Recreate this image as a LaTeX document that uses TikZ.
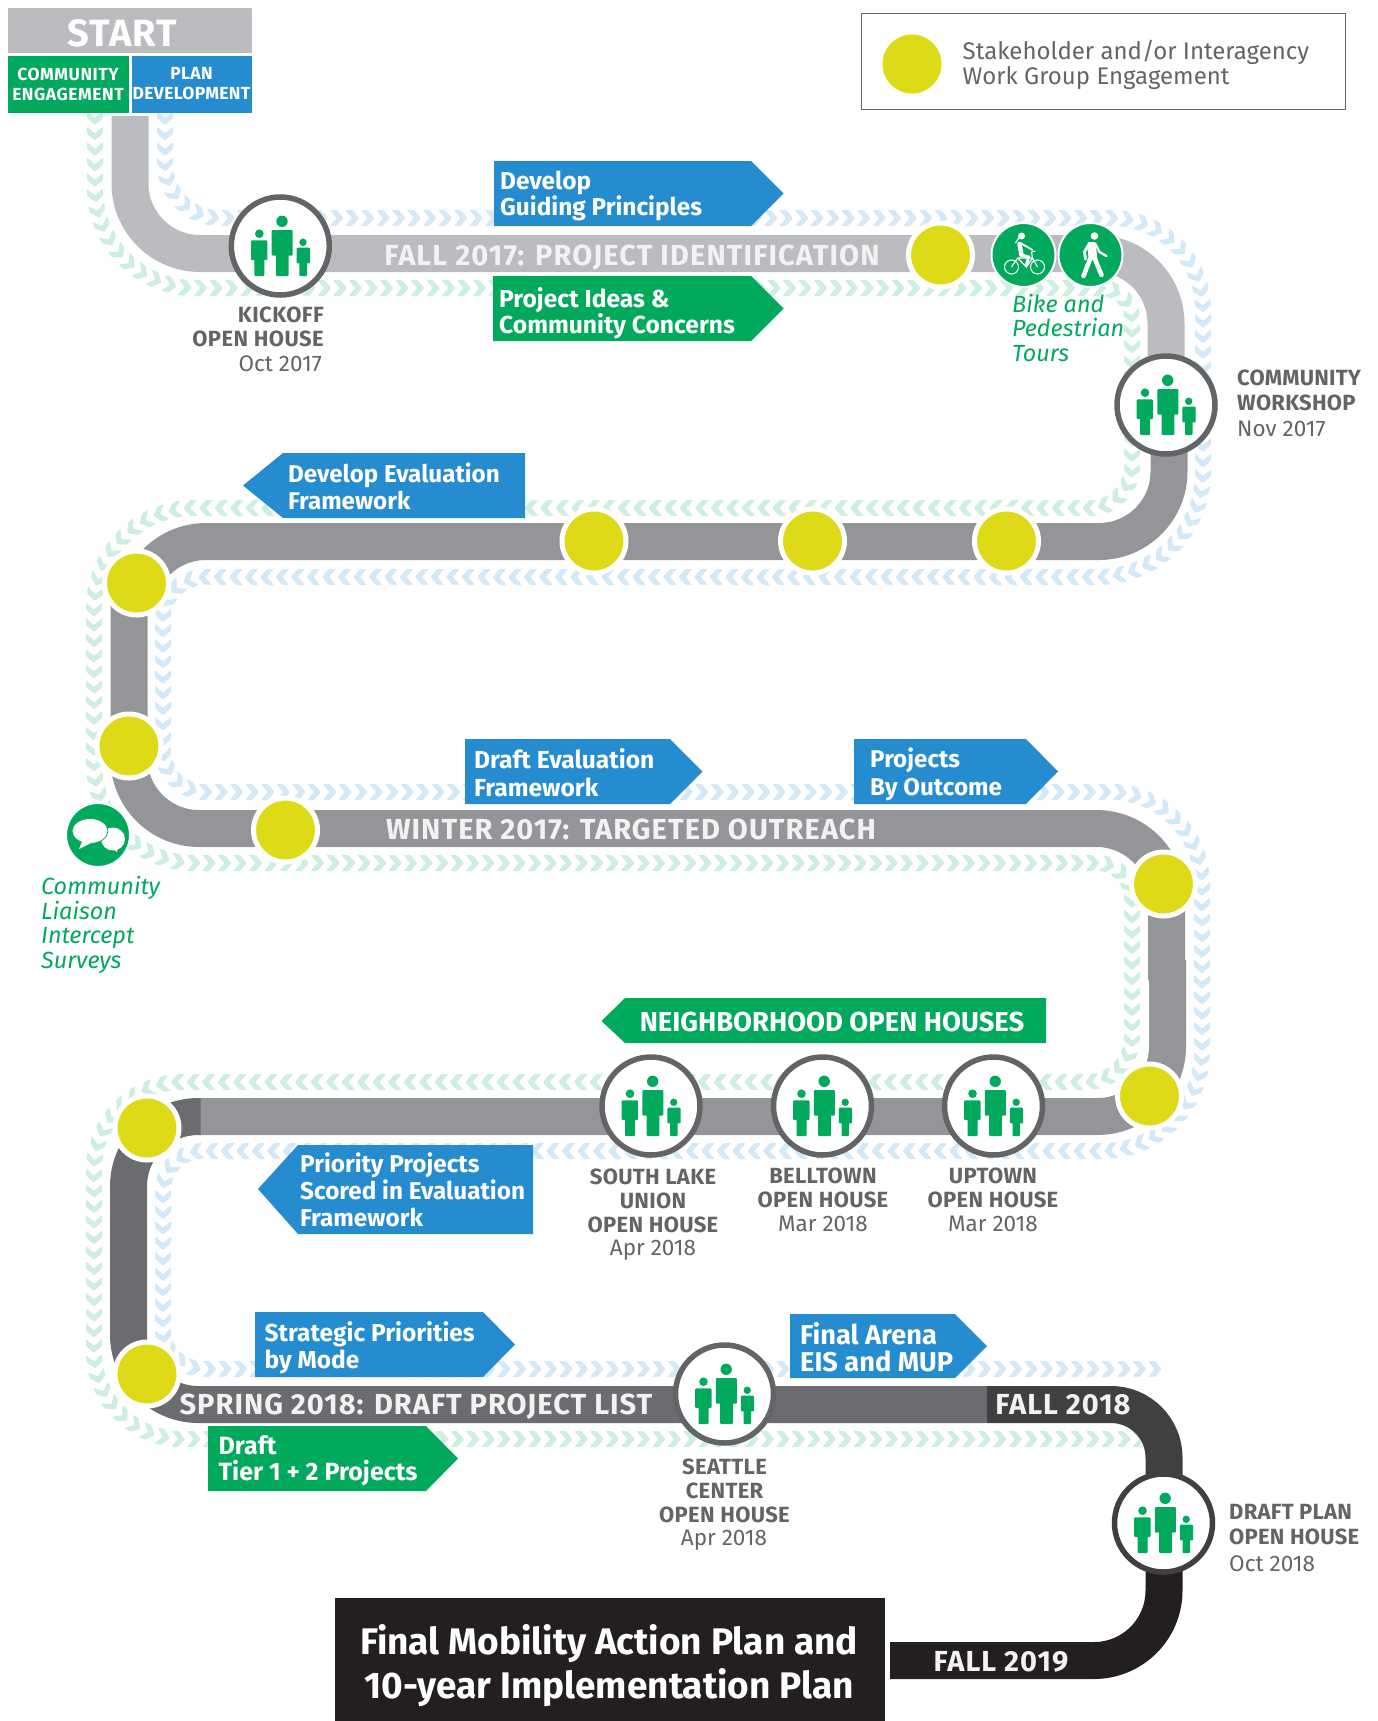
\documentclass[tikz,border=0pt]{standalone}
\usepackage{fontspec}
\setmainfont{Fira Sans}
\usetikzlibrary{decorations.markings}
\definecolor{blu}{HTML}{258CCF}
\definecolor{grn}{HTML}{00A95C}
\definecolor{ylw}{HTML}{DFDA17}
\definecolor{chevb}{HTML}{D3E9F7}
\definecolor{chevg}{HTML}{CDEFDF}
\definecolor{road1}{HTML}{BBBCBF}
\definecolor{road2}{HTML}{939598}
\definecolor{road3}{HTML}{6B6C6F}
\definecolor{road4}{HTML}{404041}
\definecolor{road5}{HTML}{231F20}
\definecolor{txtg}{HTML}{636466}
\newcommand\bb[2]{\fontsize{#1}{#2}\selectfont\bfseries}
\newcommand\bbs[3]{\fontsize{#1}{#2}\selectfont\bfseries\addfontfeature{LetterSpace=#3}}
\newcommand\rg[2]{\fontsize{#1}{#2}\selectfont}
\newcommand\itl[2]{\fontsize{#1}{#2}\selectfont\itshape}
\tikzset{
  chevpath/.style={decorate,decoration={markings,
     mark=between positions 0 and 1 step 15.5pt with {\fill[#1] (-7pt,-8pt) -- (0pt,-8pt) -- (7pt,0pt) -- (0pt,8pt) -- (-7pt,8pt) -- (0pt,0pt) -- cycle;}}},
  roadline/.style={draw=#1,line width=37,line cap=butt},
  yelnode/.style={circle,minimum size=64,inner sep=0,fill=ylw,draw=white,line width=5},
  opennode/.style={circle,minimum size=98,inner sep=0,fill=white,draw=#1,line width=5.5},
  iconnode/.style={circle,minimum size=64,inner sep=0,fill=grn,draw=white,line width=2},
  boxtext/.style={text=white,anchor=west,align=left,inner sep=0},
  roadtext/.style={text=white!95!black,inner sep=0},
  graytext/.style={text=txtg,inner sep=0},
  grtext/.style={text=grn,anchor=west,align=left,inner sep=0},
  people/.pic={
    \fill[grn] (1.7,-24.7) circle (5.7);
    \fill[grn,rounded corners=1] (-8.6,-16) rectangle (12.4,9.7);
    \fill[grn,rounded corners=1] (-4.3,8) rectangle (8.4,30);
    \fill[grn] (-21,-12.3) circle (4.3);
    \fill[grn,rounded corners=1] (-29.3,-5.7) rectangle (-13,14);
    \fill[grn,rounded corners=1] (-26,12) rectangle (-16,30);
    \fill[grn] (22.7,-3.7) circle (3.7);
    \fill[grn,rounded corners=1] (16.4,1.7) rectangle (29.7,17.3);
    \fill[grn,rounded corners=1] (19,15) rectangle (26.7,30);
  }
}
\begin{document}
\begin{tikzpicture}[x=1pt,y=-1pt]
\useasboundingbox (0,0) rectangle (1377,1721);
% chevron trails
\path[chevpath=chevb] (165,118) [rounded corners=55] -- (165,218) [rounded corners=92] -- (1203,218) [rounded corners=105] -- (1203,577) [rounded corners=42] -- (163,577) -- (163,792) [rounded corners=92] -- (1202,792) [rounded corners=100] -- (1202,1151) [rounded corners=40] -- (163,1151) -- (163,1369) [rounded corners=1] -- (1158,1369);
\path[chevpath=chevg] (95,118) [rounded corners=100] -- (95,288) [rounded corners=32] -- (1132,288) [rounded corners=42] -- (1132,508) [rounded corners=100] -- (94,508) -- (94,863) [rounded corners=36] -- (1132,863) [rounded corners=45] -- (1132,1082) [rounded corners=88] -- (94,1082) -- (94,1439) [rounded corners=1] -- (1140,1439);
% road
\draw[roadline=road1,rounded corners=70] (130,116) -- (130,253.5) -- (1166,253.5) [rounded corners=1] -- (1166,405);
\draw[roadline=road2,rounded corners=70] (1169,405) -- (1169,541.5) -- (136,541.5) -- (136,610);
\draw[roadline=road2,rounded corners=70] (129,600) -- (129,828.5) -- (1166.5,828.5) -- (1166.5,980);
\draw[roadline=road2,rounded corners=70] (1167.5,960) -- (1167.5,1116.5) -- (200,1116.5);
\draw[roadline=road3,rounded corners=70] (200.5,1116.5) -- (128.5,1116.5) -- (128.5,1404.5) -- (987,1404.5);
\draw[roadline=road4,rounded corners=53] (987,1404.5) -- (1164,1404.5) -- (1164,1523);
\draw[roadline=road5,rounded corners=70] (1164,1523) -- (1164,1660.5) -- (890,1660.5);
% boxes
\fill[road1] (8,8) rectangle (252,53);
\fill[grn] (8,56) rectangle (129,113);
\fill[blu] (132,56) rectangle (252,113);
\fill[road5] (335,1598) rectangle (885,1721);
\draw[txtg,line width=1] (861,13) rectangle (1345,109);
\fill[blu] (494,161) -- (751,161) -- (783.5,193.5) -- (751,226) -- (494,226) -- cycle;
\fill[grn] (493,276) -- (751,276) -- (783.5,308.5) -- (751,341) -- (493,341) -- cycle;
\fill[blu] (243,485.5) -- (283,453) -- (525,453) -- (525,518) -- (283,518) -- cycle;
\fill[blu] (465,739) -- (670,739) -- (702.5,771.5) -- (670,804) -- (465,804) -- cycle;
\fill[blu] (854,739) -- (1026,739) -- (1058,771.5) -- (1026,804) -- (854,804) -- cycle;
\fill[grn] (601.5,1021) -- (625,998) -- (1046,998) -- (1046,1043) -- (625,1043) -- cycle;
\fill[blu] (258,1189) -- (298,1145) -- (533,1145) -- (533,1234) -- (298,1234) -- cycle;
\fill[blu] (255,1312) -- (483,1312) -- (515,1344.5) -- (483,1377) -- (255,1377) -- cycle;
\fill[blu] (790,1314) -- (955,1314) -- (987,1346) -- (955,1378) -- (790,1378) -- cycle;
\fill[grn] (208,1426) -- (426,1426) -- (458,1458.5) -- (426,1491) -- (208,1491) -- cycle;
% yellow nodes
\node[yelnode] (y1) at (940.5,255) {};
\node[yelnode] (y2) at (594,541) {};
\node[yelnode] (y3) at (812.5,541) {};
\node[yelnode] (y4) at (1006.5,541) {};
\node[yelnode] (y5) at (136.5,583) {};
\node[yelnode] (y6) at (129,746) {};
\node[yelnode] (y7) at (285.5,830) {};
\node[yelnode] (y8) at (1163.5,884) {};
\node[yelnode] (y9) at (1149.5,1096) {};
\node[yelnode] (y10) at (147,1128) {};
\node[yelnode] (y11) at (147,1374) {};
\node[circle,minimum size=59,inner sep=0,fill=ylw] (ylegend) at (912,64) {};
% open-house nodes
\foreach \n/\p/\c in {kick/{(280.3,246)}/txtg, work/{(1166,405)}/txtg, slu/{(651,1106)}/txtg, bell/{(822.5,1106)}/txtg, upt/{(993.5,1106)}/txtg, sea/{(724.5,1394)}/txtg, draftp/{(1163.5,1523)}/road4}{
  \node[opennode=\c] (\n) at \p {};
  \pic at (\n) {people};
}
% icon nodes
\node[iconnode] (bike) at (1023.5,255) {};
\node[iconnode] (walk) at (1090.5,255) {};
\node[iconnode] (chat) at (98,835) {};
\begin{scope}[shift={(bike)},white]
  \draw[line width=1] (-12,12) circle (7) (14,12) circle (7);
  \draw[line width=1.1] (-12,12) -- (-6,3) -- (9,3) -- (14,12) (-6,3) -- (3,12) -- (9,3) (9,3) -- (8,-3) -- (12,-4);
  \fill (-2,-19) circle (3.5);
  \draw[line width=4.5,line cap=round] (-4,-11) -- (-2,0);
  \draw[line width=1.8,line cap=round] (-3,-12) -- (9,-5);
  \draw[line width=3,line cap=round] (-2,0) -- (5,2) -- (3,10);
  \draw[line width=1.2] (-4,-18) -- (-8,-12);
\end{scope}
\begin{scope}[shift={(walk)},white]
  \fill (4,-19) circle (3.8);
  \fill[rounded corners=1] (-3,-13) -- (5,-13) -- (7,5) -- (-2,5) -- cycle;
  \draw[line width=4.5,line cap=round] (0,3) -- (-7,21) (4,3) -- (11,20);
  \draw[line width=2.4,line cap=round] (5,-11) -- (9,-3) -- (16,1);
  \draw[line width=3,line cap=round] (-2,-10) -- (-6,-3) -- (-5,4);
\end{scope}
\begin{scope}[shift={(chat)},white]
  \fill (15,4) ellipse (12 and 11.5);
  \fill (14,12) -- (19,17) -- (20,8) -- cycle;
  \fill[draw=grn,line width=.8] (-8,-4) ellipse (18 and 12.5);
  \fill (-15,4) -- (-19,14) -- (-7,8) -- cycle;
\end{scope}
% texts
\node[text=white,inner sep=0,font=\bbs{38}{38}{3}] (tstart) at (122,33) {START};
\node[text=white,inner sep=0,align=center,font=\bbs{17.5}{20}{3}] (tce) at (68,84) {COMMUNITY\\ENGAGEMENT};
\node[text=white,inner sep=0,align=center,font=\bbs{17.5}{20}{2}] (tpd) at (191.5,84) {PLAN\\DEVELOPMENT};
\node[roadtext,font=\bbs{29}{29}{3.9}] (t1) at (632,258) {FALL 2017: PROJECT IDENTIFICATION};
\node[roadtext,font=\bbs{29}{29}{3.7}] (t2) at (631,829) {WINTER 2017: TARGETED OUTREACH};
\node[roadtext,font=\bbs{29}{29}{3.5}] (t3) at (416,1407) {SPRING 2018: DRAFT PROJECT LIST};
\node[roadtext,font=\bbs{29}{29}{3.5}] (t4) at (1063,1405) {FALL 2018};
\node[roadtext,font=\bbs{29}{29}{3.5}] (t5) at (1001,1662) {FALL 2019};
\node[text=white,inner sep=0,align=center,font=\bb{37}{44}] (tfinal) at (609,1665.5) {Final Mobility Action Plan and\\10-year Implementation Plan};
\node[graytext,anchor=west,align=left,font=\rg{24}{25}] (tleg) at (962.5,65) {Stakeholder and/or Interagency\\Work Group Engagement};
\node[boxtext,font=\bb{24.4}{24}] (b1) at (500,196) {Develop\\Guiding Principles};
\node[boxtext,font=\bb{24.6}{26}] (b2) at (499,313) {Project Ideas \&\\Community Concerns};
\node[boxtext,font=\bb{24.2}{27}] (b3) at (288,486) {Develop Evaluation\\Framework};
\node[boxtext,font=\bb{24.6}{28}] (b4) at (474,773) {Draft Evaluation\\Framework};
\node[boxtext,font=\bb{24.2}{28}] (b5) at (870,774) {Projects\\By Outcome};
\node[text=white,inner sep=0,font=\bb{27.4}{28}] (b6) at (832,1022) {NEIGHBORHOOD OPEN HOUSES};
\node[boxtext,font=\bb{24.3}{27}] (b7) at (300,1190) {Priority Projects\\Scored in Evaluation\\Framework};
\node[boxtext,font=\bb{24.5}{27}] (b8) at (264.5,1348) {Strategic Priorities\\by Mode};
\node[boxtext,font=\bb{27.2}{26.5}] (b9) at (800,1347) {Final Arena\\EIS and MUP};
\node[boxtext,font=\bb{25}{25.5}] (b10) at (218.5,1461) {Draft\\Tier 1 + 2 Projects};
\node[graytext,anchor=east,align=right,font=\bbs{22}{24.5}{2}] (l1a) at (324,327) {KICKOFF\\OPEN HOUSE};
\node[graytext,anchor=east,font=\rg{22.5}{22}] (l1b) at (322,364) {Oct 2017};
\node[graytext,anchor=west,align=left,font=\bbs{22}{25}{1}] (l2a) at (1237,390) {COMMUNITY\\WORKSHOP};
\node[graytext,anchor=west,font=\rg{22.5}{22}] (l2b) at (1237,429) {Nov 2017};
\node[graytext,align=center,font=\bbs{22}{24}{1.5}] (l3a) at (653,1200.5) {SOUTH LAKE\\UNION\\OPEN HOUSE};
\node[graytext,font=\rg{22.5}{22}] (l3b) at (653,1250) {Apr 2018};
\node[graytext,align=center,font=\bbs{22}{24}{1.5}] (l4a) at (823,1188) {BELLTOWN\\OPEN HOUSE};
\node[graytext,font=\rg{22.5}{22}] (l4b) at (823,1224) {Mar 2018};
\node[graytext,align=center,font=\bbs{22}{24}{1.5}] (l5a) at (993,1188) {UPTOWN\\OPEN HOUSE};
\node[graytext,font=\rg{22.5}{22}] (l5b) at (993,1224) {Mar 2018};
\node[graytext,align=center,font=\bbs{22}{24}{1.5}] (l6a) at (724.5,1491) {SEATTLE\\CENTER\\OPEN HOUSE};
\node[graytext,font=\rg{22.5}{22}] (l6b) at (724,1540.5) {Apr 2018};
\node[graytext,anchor=west,align=left,font=\bbs{22}{24.5}{1.2}] (l7a) at (1229,1524.5) {DRAFT PLAN\\OPEN HOUSE};
\node[graytext,anchor=west,font=\rg{22.5}{22}] (l7b) at (1229,1564) {Oct 2018};
\node[grtext,font=\itl{23.4}{24.7}] (g1) at (1012,328) {Bike and\\Pedestrian\\Tours};
\node[grtext,font=\itl{23.4}{24.7}] (g2) at (41,925) {Community\\Liaison\\Intercept\\Surveys};
\end{tikzpicture}
\end{document}
